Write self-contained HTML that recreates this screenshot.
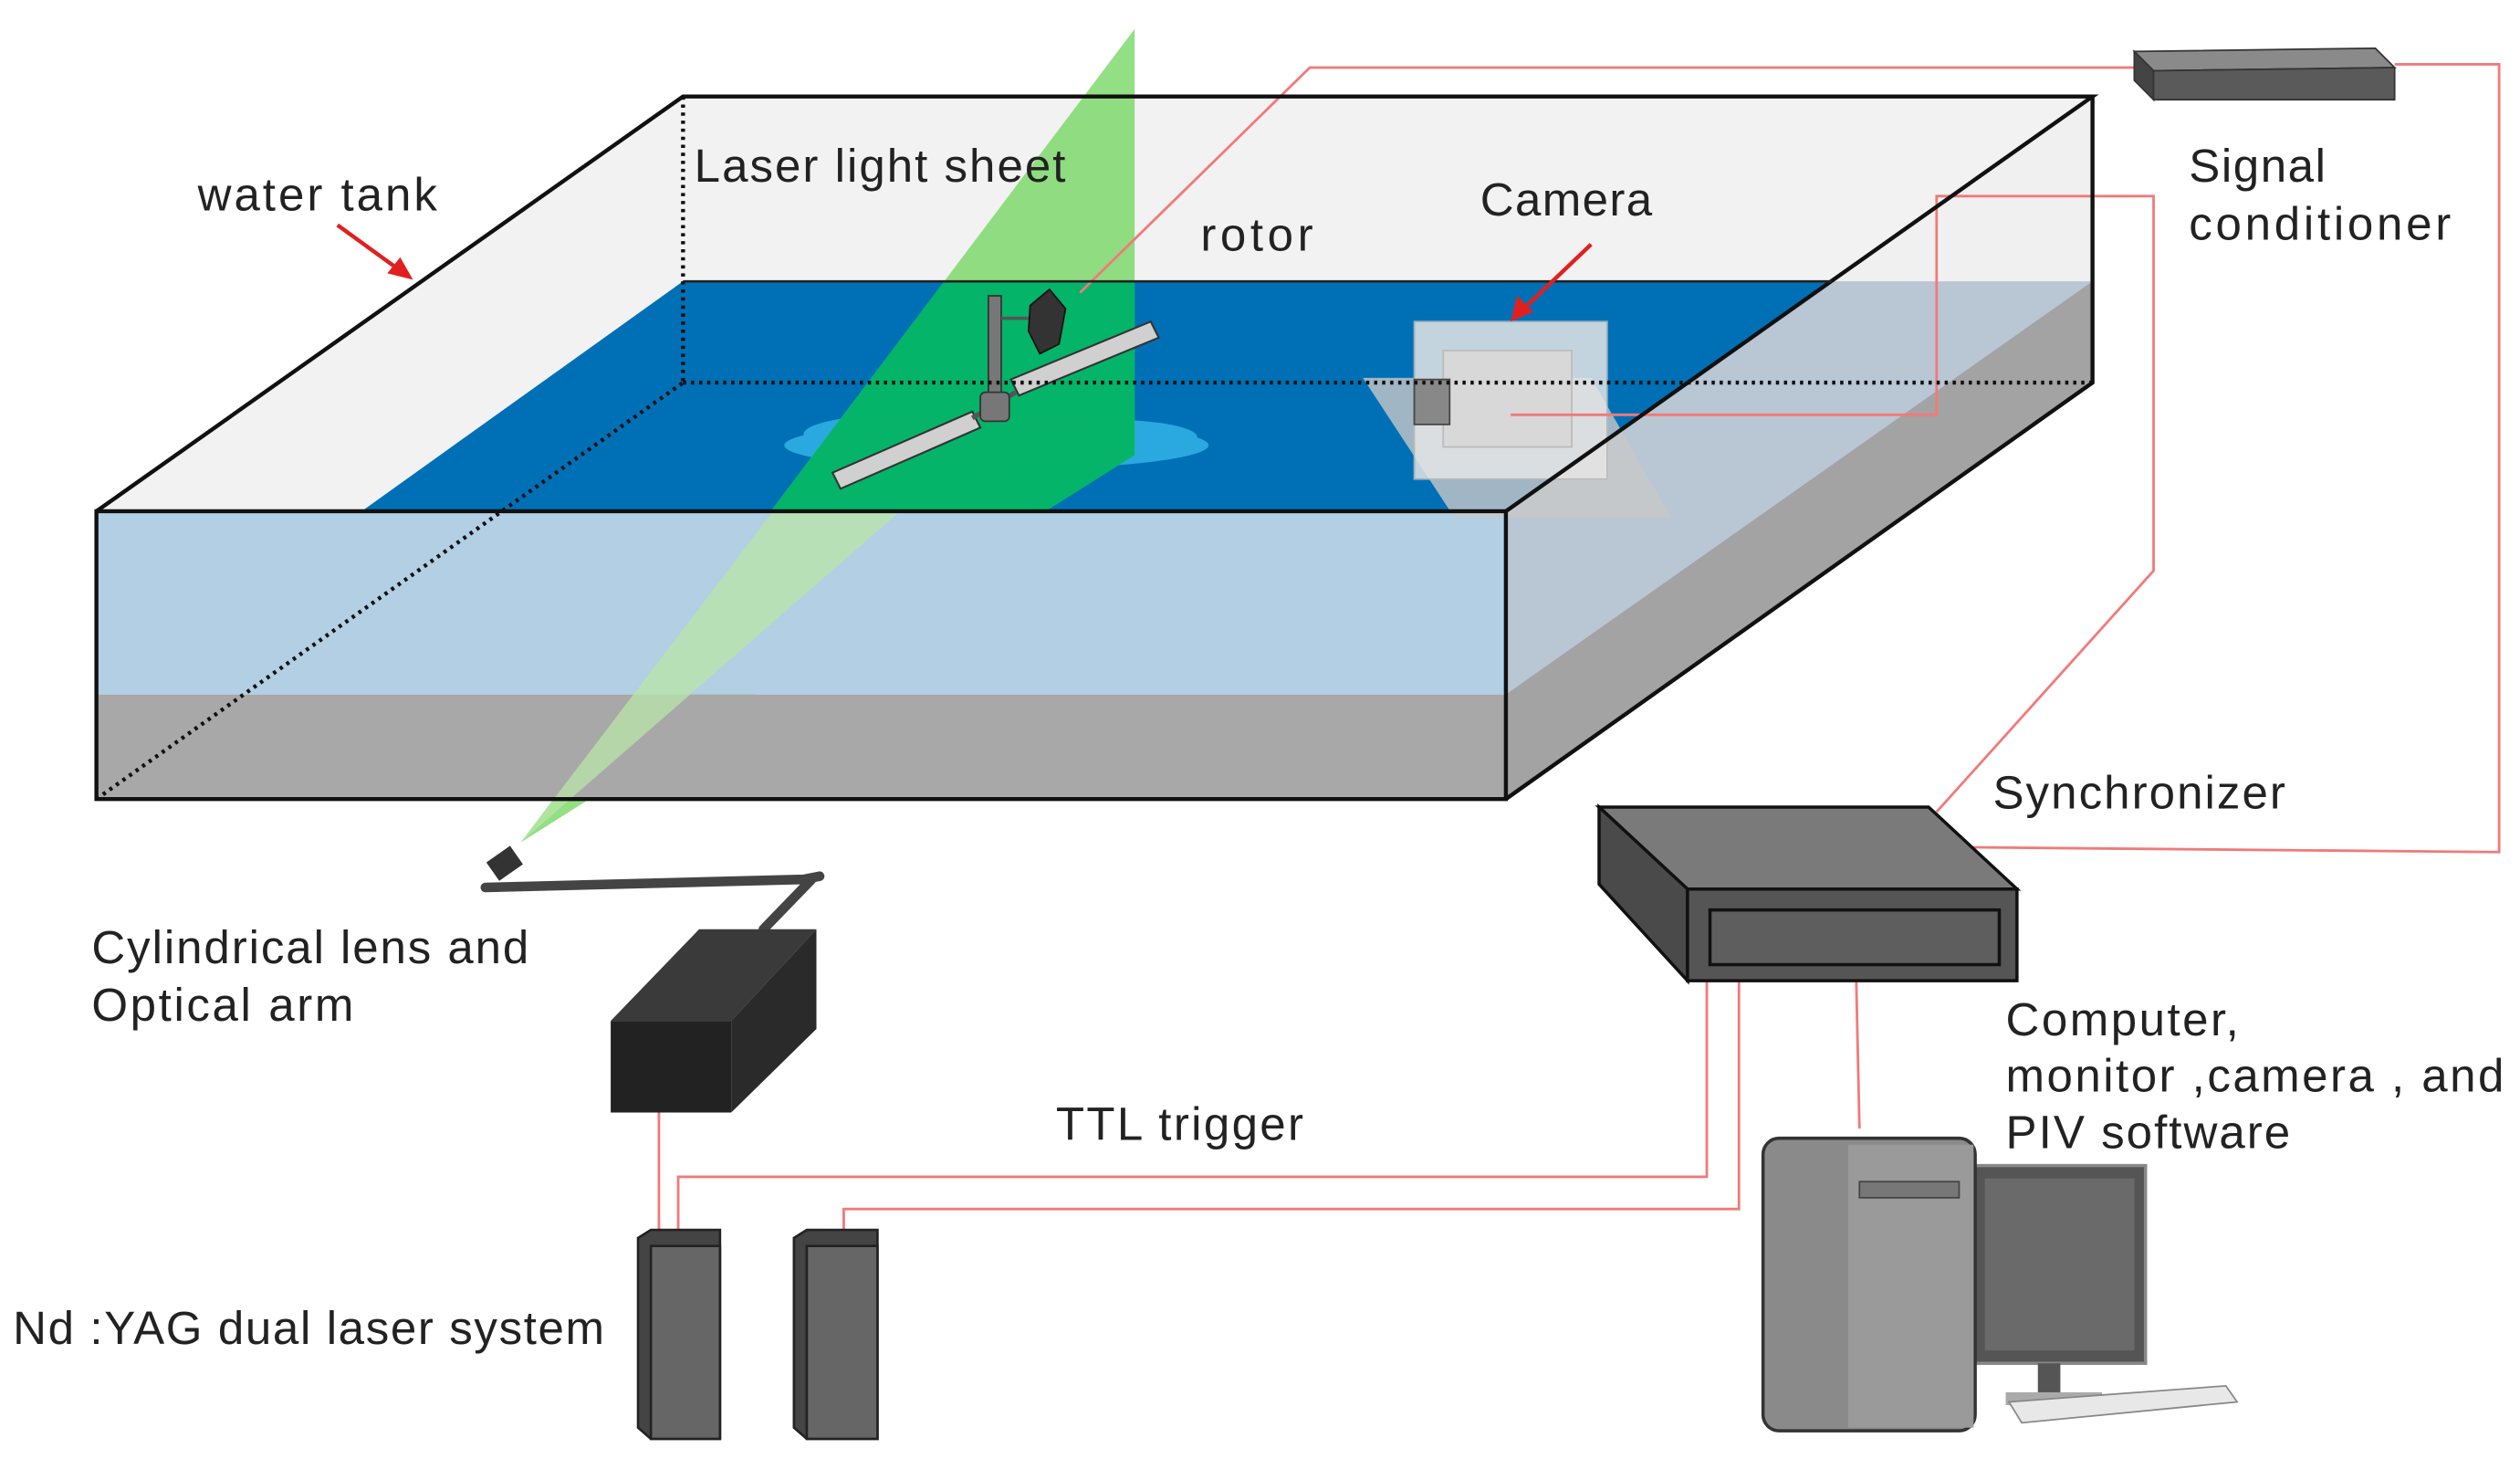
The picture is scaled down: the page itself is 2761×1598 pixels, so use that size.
<!DOCTYPE html>
<html><head><meta charset="utf-8"><style>
html,body{margin:0;padding:0;background:#fff;}
svg{display:block;}
text{font-family:"Liberation Sans",sans-serif;font-size:29px;fill:#222;}
</style></head><body>
<svg width="2761" height="1598" viewBox="0 0 1568 907.5" xmlns="http://www.w3.org/2000/svg">
<defs>
<clipPath id="water"><polygon points="225,318 425,175 1140,175 937,318"/></clipPath>
</defs>
<!-- tank interior -->
<polygon points="60,318 425,60 1302,60 937,318" fill="#f2f2f2"/>
<polygon points="225,318 425,175 1140,175 937,318" fill="#0070b6"/>
<!-- right face -->
<polygon points="937,318 1302,60 1302,238 937,497" fill="#f0f0f0"/>
<polygon points="937,318 1140,175 1302,175 1302,238 937,497" fill="#b9c6d3"/>
<polygon points="937,432 1302,175 1302,238 937,497" fill="#a3a3a3"/>
<!-- splash -->
<ellipse cx="620" cy="277" rx="132" ry="15" fill="#2aa8e0"/>
<ellipse cx="560" cy="270" rx="60" ry="12" fill="#2aa8e0"/>
<ellipse cx="690" cy="272" rx="55" ry="11" fill="#2aa8e0"/>
<!-- laser sheet -->
<polygon points="324,524 706,18 706,283" fill="#6fd45a" opacity="0.75"/>
<g clip-path="url(#water)"><polygon points="324,524 706,18 706,283" fill="#00b368" opacity="0.95"/></g>
<!-- front face -->
<rect x="60" y="318" width="877" height="114" fill="#b3cfe3"/>
<rect x="60" y="432" width="877" height="65" fill="#a8a8a8"/>
<polygon points="324,524 481,318 560,318" fill="#b8e6a8" opacity="0.75"/>
<!-- rotor -->
<polygon points="518,294 605,256 610,266 523,304" fill="#d0d0d0" stroke="#333" stroke-width="1.2"/>
<polygon points="629,236 716,200 721,210 634,246" fill="#d0d0d0" stroke="#333" stroke-width="1.2"/>
<line x1="605" y1="260" x2="632" y2="244" stroke="#555" stroke-width="3"/>
<rect x="615" y="184" width="8" height="62" fill="#777" stroke="#333" stroke-width="1"/>
<rect x="610" y="244" width="18" height="18" rx="3" fill="#777" stroke="#333" stroke-width="1"/>
<line x1="623" y1="198" x2="643" y2="198" stroke="#555" stroke-width="2"/>
<polygon points="641,190 653,180 663,192 659,214 647,220 640,206" fill="#333" stroke="#111"/>
<!-- camera -->
<polygon points="848,235 990,235 1040,322 905,322" fill="#c8c8c8" opacity="0.8"/>
<rect x="880" y="200" width="120" height="98" fill="#e6e6e6" opacity="0.85" stroke="#bbb"/>
<rect x="898" y="218" width="80" height="60" fill="#d8d8d8" stroke="#bbb"/>
<rect x="880" y="236" width="22" height="28" fill="#888" stroke="#444"/>
<!-- red signal lines -->
<g stroke="#f07a7a" stroke-width="1.6" fill="none">
<polyline points="672,182 815,42 1330,42"/>
<polyline points="1490,40 1555,40 1555,530 1225,527"/>
<polyline points="940,258 1205,258 1205,122 1340,122 1340,355 1205,505"/>
<polyline points="1062,610 1062,732 422,732 422,765"/>
<polyline points="1082,610 1082,752 525,752 525,765"/>
<polyline points="1155,610 1157,702"/>
<polyline points="410,692 410,765"/>
</g>
<!-- tank outlines -->
<g stroke="#111" stroke-width="2.5" fill="none">
<polygon points="60,318 937,318 937,497 60,497"/>
<polyline points="60,318 425,60 1302,60 937,318"/>
<polyline points="1302,60 1302,238 937,497"/>
</g>
<line x1="425" y1="175" x2="1140" y2="175" stroke="#222" stroke-width="1.5"/>
<g stroke="#111" stroke-width="2.5" stroke-dasharray="2,3" fill="none">
<line x1="425" y1="60" x2="425" y2="238"/>
<line x1="425" y1="238" x2="1302" y2="238"/>
<line x1="60" y1="497" x2="425" y2="238"/>
</g>
<!-- red arrows -->
<g stroke="#e02020" stroke-width="2.5">
<line x1="210" y1="140" x2="250" y2="169"/>
<line x1="990" y1="152" x2="946" y2="194"/>
</g>
<polygon points="257,174 241,170 249,160" fill="#e02020"/>
<polygon points="940,200 944,184 954,194" fill="#e02020"/>
<!-- signal conditioner -->
<polygon points="1328,32 1478,30 1490,42 1340,44" fill="#8a8a8a" stroke="#333"/>
<polygon points="1328,32 1340,44 1340,62 1328,50" fill="#444" stroke="#333"/>
<polygon points="1340,44 1490,42 1490,62 1340,62" fill="#5a5a5a" stroke="#333"/>
<!-- synchronizer -->
<polygon points="995,502 1200,502 1255,553 1050,553" fill="#7a7a7a" stroke="#111" stroke-width="2"/>
<polygon points="995,502 1050,553 1050,610 995,550" fill="#4a4a4a" stroke="#111" stroke-width="2"/>
<rect x="1050" y="553" width="205" height="57" fill="#555" stroke="#111" stroke-width="2"/>
<rect x="1064" y="566" width="180" height="34" fill="#5e5e5e" stroke="#111" stroke-width="2"/>
<!-- optical arm & lens -->
<g stroke="#444" stroke-width="6" fill="none" stroke-linecap="round">
<polyline points="302,552 500,547 510,545"/>
<line x1="505" y1="547" x2="475" y2="578"/>
</g>
<rect x="305" y="530" width="18" height="14" fill="#333" transform="rotate(-35 314 537)"/>
<!-- laser head box -->
<polygon points="380,635 435,578 508,578 455,635" fill="#3a3a3a"/>
<polygon points="455,635 508,578 508,640 455,692" fill="#2a2a2a"/>
<rect x="380" y="635" width="75" height="57" fill="#222"/>
<!-- laser towers -->
<g stroke="#222" stroke-width="1.5">
<polygon points="397,770 405,765 448,765 448,895 405,895 397,888" fill="#444"/>
<rect x="405" y="775" width="43" height="120" fill="#666"/>
<polygon points="494,770 502,765 546,765 546,895 502,895 494,888" fill="#444"/>
<rect x="502" y="775" width="44" height="120" fill="#666"/>
</g>
<!-- computer -->
<rect x="1228" y="725" width="107" height="123" fill="#555" stroke="#888" stroke-width="2"/>
<rect x="1235" y="733" width="93" height="107" fill="#6a6a6a"/>
<rect x="1268" y="848" width="14" height="22" fill="#555"/>
<rect x="1248" y="866" width="60" height="8" fill="#aaa"/>
<polygon points="1250,872 1385,862 1392,872 1258,885" fill="#e8e8e8" stroke="#888"/>
<rect x="1097" y="708" width="132" height="182" rx="10" fill="#8a8a8a" stroke="#333" stroke-width="2"/>
<rect x="1150" y="712" width="78" height="176" fill="#9a9a9a"/>
<rect x="1157" y="735" width="62" height="10" fill="#777" stroke="#444"/>
<!-- labels -->
<text x="123" y="131" textLength="149">water tank</text>
<text x="432" y="113" textLength="231">Laser light sheet</text>
<text x="747" y="156" textLength="70">rotor</text>
<text x="921" y="134" textLength="107">Camera</text>
<text x="1362" y="113" textLength="85">Signal</text>
<text x="1362" y="149" textLength="163">conditioner</text>
<text x="1240" y="503" textLength="182">Synchronizer</text>
<text x="57" y="599" textLength="272">Cylindrical lens and</text>
<text x="57" y="635" textLength="163">Optical arm</text>
<text x="657" y="709" textLength="154">TTL trigger</text>
<text x="1248" y="644" textLength="145">Computer,</text>
<text x="1248" y="679" textLength="310">monitor ,camera , and</text>
<text x="1248" y="714" textLength="177">PIV software</text>
<text x="8" y="836" textLength="368">Nd :YAG dual laser system</text>
</svg>
</body></html>
